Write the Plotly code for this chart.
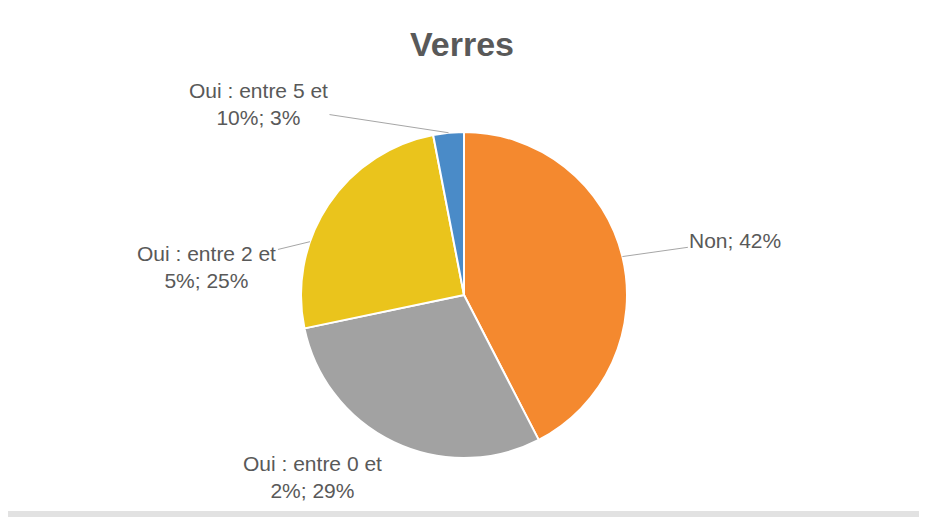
#!/usr/bin/env python3
import math
import plotly.graph_objects as go

labels = ['Non', 'Oui : entre 0 et 2%', 'Oui : entre 2 et 5%', 'Oui : entre 5 et 10%']
label_text = ['Non', 'Oui : entre 0 et<br>2%', 'Oui : entre 2 et<br>5%', 'Oui : entre 5 et<br>10%']
values = [42, 29, 25, 3]
colors = ['#F4892F', '#A2A2A2', '#EAC41C', '#4A8BC8']

# page has an 8px body margin, so the figure is a bit smaller than the window
W, H = 919, 509
cx, cy, r = 456, 287, 163

# where on the slice rim the leader line attaches (0..1 along the slice),
# label offset from that point (pixels) and whether a leader line is drawn
attach = [0.5, 0.5, 0.34, 0.5]
offsets = [(113, -16), (-81, 35), (-103, 25), (-190, -29)]
leader = [True, False, True, True]

fig = go.Figure()
fig.add_trace(go.Pie(
    labels=labels,
    values=values,
    sort=False,
    direction='clockwise',
    rotation=0,
    marker=dict(colors=colors, line=dict(color='white', width=2)),
    textinfo='none',
    hoverinfo='label+percent',
    showlegend=False,
    domain=dict(x=[(cx - r) / W, (cx + r) / W], y=[1 - (cy + r) / H, 1 - (cy - r) / H]),
))

total = sum(values)
start = 0.0
for i, v in enumerate(values):
    ang = (start + v * attach[i]) / total * 2 * math.pi
    start += v
    px = cx + r * math.sin(ang)
    py = cy - r * math.cos(ang)
    pct = round(100 * v / total)
    fig.add_annotation(
        x=px / W, y=1 - py / H, xref='paper', yref='paper',
        text=f'{label_text[i]}; {pct}%',
        showarrow=True, arrowhead=0, arrowwidth=1,
        arrowcolor='#A6A6A6' if leader[i] else 'rgba(0,0,0,0)',
        ax=offsets[i][0], ay=offsets[i][1],
        font=dict(family='Liberation Sans, Arial', size=21, color='#595959'),
        align='center',
    )

# outer frame like the screenshot
fig.add_shape(type='rect', xref='paper', yref='paper', x0=914 / W, x1=1, y0=0, y1=1,
              fillcolor='#E2E2E2', line=dict(width=0), layer='below')
fig.add_shape(type='rect', xref='paper', yref='paper', x0=0, x1=1, y0=0, y1=(H - 503) / H,
              fillcolor='#E2E2E2', line=dict(width=0), layer='below')

fig.update_layout(
    width=W, height=H,
    margin=dict(l=0, r=0, t=0, b=0),
    paper_bgcolor='white',
    title=dict(text='<b>Verres</b>', x=454 / W, xanchor='center', y=1 - 36 / H, yanchor='middle',
               font=dict(family='Liberation Sans, Arial', size=34, color='#595959')),
)

fig.write_html('out.html')
